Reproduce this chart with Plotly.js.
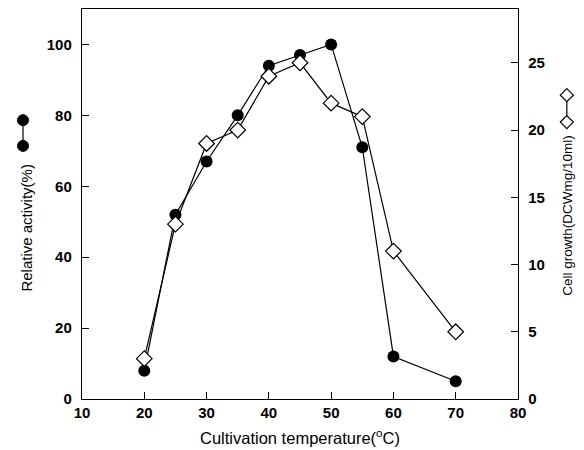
<!DOCTYPE html>
<html>
<head>
<meta charset="utf-8">
<script src="https://cdn.plot.ly/plotly-3.0.1.min.js"></script>
<style>html,body{margin:0;padding:0;background:#fff}#chart{width:584px;height:450px}</style>
</head>
<body>
<div id="chart"></div>
<script>
const temperature = [20, 25, 30, 35, 40, 45, 50, 55, 60, 70];
const relativeActivity = [8, 52, 67, 80, 94, 97, 100, 71, 12, 5];
const cellGrowth = [3, 13, 19, 20, 24, 25, 22, 21, 11, 5];
const leftTicks = [0, 20, 40, 60, 80, 100];
const rightTicks = [0, 5, 10, 15, 20, 25];
const xTicks = [10, 20, 30, 40, 50, 60, 70, 80];

const fam = 'Liberation Sans, Arial, sans-serif';
const tickFont = {family: fam, size: 15, color: '#000', weight: 'bold'};
const titleFont = (s) => ({family: fam, size: s, color: '#000'});

const traces = [
  {
    x: temperature, y: relativeActivity, type: 'scatter', mode: 'lines+markers',
    line: {color: '#000', width: 1.2},
    marker: {symbol: 'circle', size: 12, color: '#000'},
    xaxis: 'x', yaxis: 'y', showlegend: false
  },
  {
    x: temperature, y: cellGrowth, type: 'scatter', mode: 'lines+markers',
    line: {color: '#000', width: 1.2},
    marker: {symbol: 'diamond', size: 12, color: '#fff', line: {color: '#000', width: 1.2}},
    xaxis: 'x', yaxis: 'y2', showlegend: false
  }
];

const diamondPath = 'M0,6.5 L6.5,0 L0,-6.5 L-6.5,0 Z';

const layout = {
  width: 584, height: 450,
  margin: {l: 82, r: 66, t: 9, b: 51},
  paper_bgcolor: '#fff', plot_bgcolor: '#fff',
  font: titleFont(13),
  showlegend: false,
  xaxis: {
    range: [10, 80], tickvals: xTicks, ticktext: xTicks.map(String),
    ticks: 'inside', ticklen: 7, tickwidth: 1, tickcolor: '#000',
    showline: true, linecolor: '#000', linewidth: 1.2, mirror: true,
    showgrid: false, zeroline: false, tickfont: tickFont, ticklabelstandoff: 0
  },
  yaxis: {
    range: [0, 110], tickvals: leftTicks, ticktext: leftTicks.map(String),
    ticks: 'inside', ticklen: 7, tickwidth: 1, tickcolor: '#000',
    showline: true, linecolor: '#000', linewidth: 1.2,
    showgrid: false, zeroline: false, tickfont: tickFont, ticklabelstandoff: 6
  },
  yaxis2: {
    range: [0, 29], tickvals: rightTicks, ticktext: rightTicks.map(String),
    overlaying: 'y', side: 'right',
    ticks: 'inside', ticklen: 7, tickwidth: 1, tickcolor: '#000',
    showline: true, linecolor: '#000', linewidth: 1.2,
    showgrid: false, zeroline: false, tickfont: tickFont, ticklabelstandoff: 6
  },
  annotations: [
    {text: 'Cultivation temperature(<sup>o</sup>C)', xref: 'paper', yref: 'paper',
     x: 0.50, y: -0.097, xanchor: 'center', yanchor: 'middle', showarrow: false, font: titleFont(16.5)},
    {text: 'Relative activity(%)', xref: 'paper', yref: 'paper', textangle: -90,
     x: -0.128, y: 0.44, xanchor: 'center', yanchor: 'middle', showarrow: false, font: titleFont(15)},
    {text: 'Cell growth(DCWmg/10ml)', xref: 'paper', yref: 'paper', textangle: -90,
     x: 1.115, y: 0.47, xanchor: 'center', yanchor: 'middle', showarrow: false, font: titleFont(13.5)}
  ],
  shapes: [
    // left legend key: two filled circles joined by a line
    {type: 'line', xref: 'paper', yref: 'paper', xsizemode: 'pixel', ysizemode: 'pixel',
     xanchor: -0.1353, yanchor: 0.682, x0: 0, x1: 0, y0: -13, y1: 13, line: {color: '#000', width: 1.2}},
    {type: 'circle', xref: 'paper', yref: 'paper', xsizemode: 'pixel', ysizemode: 'pixel',
     xanchor: -0.1353, yanchor: 0.715, x0: -5.5, x1: 5.5, y0: -5.5, y1: 5.5, fillcolor: '#000', line: {color: '#000', width: 1}},
    {type: 'circle', xref: 'paper', yref: 'paper', xsizemode: 'pixel', ysizemode: 'pixel',
     xanchor: -0.1353, yanchor: 0.649, x0: -5.5, x1: 5.5, y0: -5.5, y1: 5.5, fillcolor: '#000', line: {color: '#000', width: 1}},
    // right legend key: two open diamonds joined by a line
    {type: 'line', xref: 'paper', yref: 'paper', xsizemode: 'pixel', ysizemode: 'pixel',
     xanchor: 1.112, yanchor: 0.7445, x0: 0, x1: 0, y0: -12, y1: 12, line: {color: '#000', width: 1.2}},
    {type: 'path', xref: 'paper', yref: 'paper', xsizemode: 'pixel', ysizemode: 'pixel',
     xanchor: 1.112, yanchor: 0.779, path: diamondPath, fillcolor: '#fff', line: {color: '#000', width: 1.2}},
    {type: 'path', xref: 'paper', yref: 'paper', xsizemode: 'pixel', ysizemode: 'pixel',
     xanchor: 1.112, yanchor: 0.710, path: diamondPath, fillcolor: '#fff', line: {color: '#000', width: 1.2}}
  ]
};

Plotly.newPlot('chart', traces, layout, {displayModeBar: false, staticPlot: true});
</script>
</body>
</html>
